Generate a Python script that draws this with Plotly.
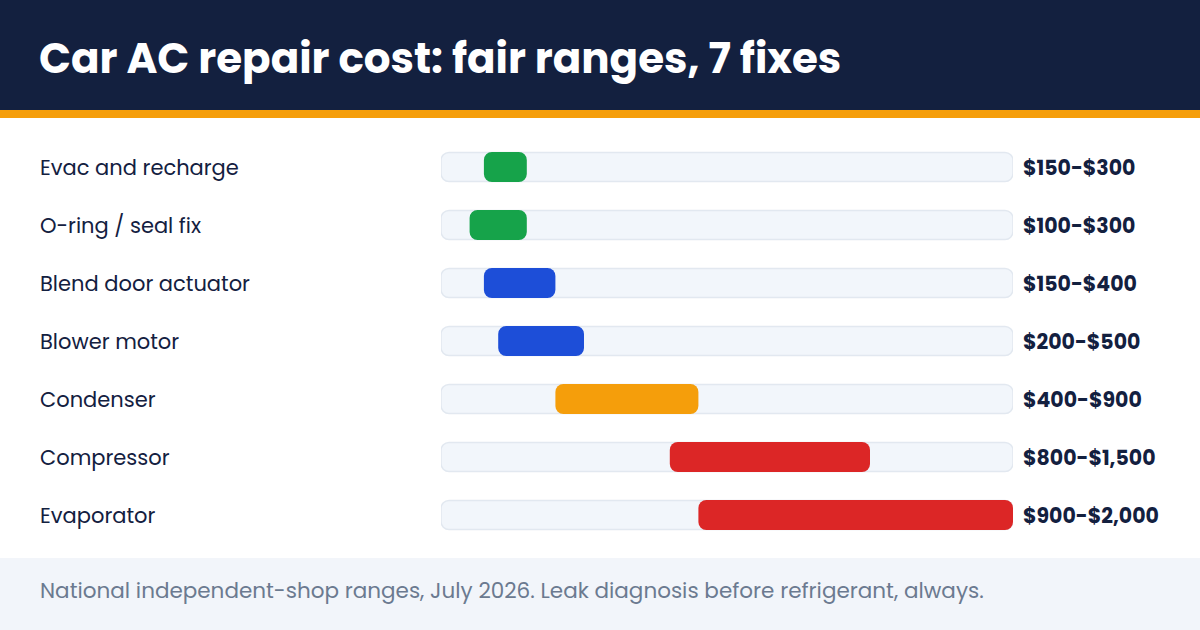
import plotly.graph_objects as go

categories = ["Evac and recharge", "O-ring / seal fix", "Blend door actuator",
              "Blower motor", "Condenser", "Compressor", "Evaporator"]
low = [150, 100, 150, 200, 400, 800, 900]
high = [300, 300, 400, 500, 900, 1500, 2000]
value_labels = ["$150-$300", "$100-$300", "$150-$400", "$200-$500",
                "$400-$900", "$800-$1,500", "$900-$2,000"]
colors = ["#16A34A", "#16A34A", "#1D4ED8", "#1D4ED8", "#F59E0B", "#DC2626", "#DC2626"]
scale_max = 2000

W, H = 1200, 630
NAVY = "#13203F"
FONT = "Poppins, Inter, 'Noto Sans', sans-serif"

fig = go.Figure()
fig.add_trace(go.Bar(
    y=categories, x=[scale_max] * len(categories), base=[0] * len(categories),
    orientation="h", width=0.5,
    marker=dict(color="#F2F6FB", line=dict(color="#E2E8F0", width=1.5), cornerradius=8),
    hoverinfo="skip", showlegend=False,
))
fig.add_trace(go.Bar(
    y=categories, x=[h - l for l, h in zip(low, high)], base=low,
    orientation="h", width=0.52,
    marker=dict(color=colors, line=dict(width=0), cornerradius=8),
    hoverinfo="skip", showlegend=False,
))

for cat, lab in zip(categories, value_labels):
    fig.add_annotation(x=38 / W, xref="paper", y=cat, yref="y", text=cat,
                       xanchor="left", yanchor="middle", showarrow=False,
                       font=dict(family=FONT, size=21, color=NAVY))
    fig.add_annotation(x=1021 / W, xref="paper", y=cat, yref="y", text=f"<b>{lab}</b>",
                       xanchor="left", yanchor="middle", showarrow=False,
                       font=dict(family=FONT, size=20.5, color=NAVY))

shapes = [
    dict(type="rect", xref="paper", yref="paper", x0=0, x1=1, y0=1 - 110 / H, y1=1,
         fillcolor="#13203F", line=dict(width=0), layer="below"),
    dict(type="rect", xref="paper", yref="paper", x0=0, x1=1, y0=1 - 118 / H, y1=1 - 110 / H,
         fillcolor="#F59E0B", line=dict(width=0), layer="below"),
    dict(type="rect", xref="paper", yref="paper", x0=0, x1=1, y0=0, y1=72 / H,
         fillcolor="#F2F5FA", line=dict(width=0), layer="below"),
]

fig.add_annotation(x=37 / W, xref="paper", y=1 - 58 / H, yref="paper",
                   text="<b>Car AC repair cost: fair ranges, 7 fixes</b>",
                   xanchor="left", yanchor="middle", showarrow=False,
                   font=dict(family=FONT, size=42, color="white"))
fig.add_annotation(x=38 / W, xref="paper", y=1 - 590 / H, yref="paper",
                   text="National independent-shop ranges, July 2026. Leak diagnosis before refrigerant, always.",
                   xanchor="left", yanchor="middle", showarrow=False,
                   font=dict(family=FONT, size=21.5, color="#6B7A90"))

fig.update_layout(
    width=W, height=H, margin=dict(l=0, r=0, t=0, b=0),
    paper_bgcolor="white", plot_bgcolor="rgba(0,0,0,0)",
    barmode="overlay", shapes=shapes,
    xaxis=dict(range=[0, scale_max], domain=[441 / W, 1013 / W], visible=False, fixedrange=True),
    yaxis=dict(categoryorder="array", categoryarray=categories, autorange="reversed",
               domain=[(H - 544) / H, (H - 138) / H], visible=False, fixedrange=True),
)

fig.write_html("out.html", config={"displayModeBar": False})
